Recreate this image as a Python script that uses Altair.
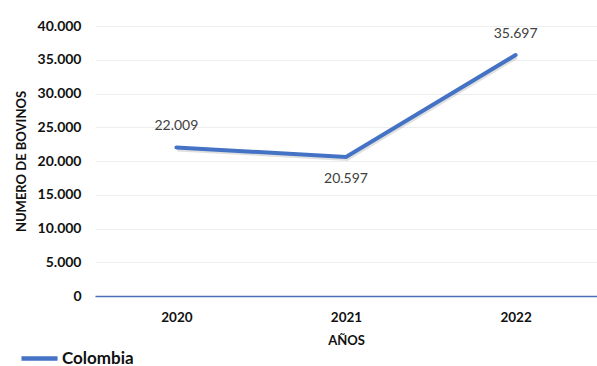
import altair as alt
import pandas as pd

# Bovine counts per year
years = ["2020", "2021", "2022"]
bovinos = [22009, 20597, 35697]
label_side = ["above", "below", "above"]
series = ["Colombia", "Colombia", "Colombia"]

df = pd.DataFrame({
    "year": years,
    "value": bovinos,
    "side": label_side,
    "serie": series,
})
df["label"] = df["value"].map(lambda v: f"{v:,}".replace(",", "."))

FONT = "Lato"
BLUE = "#4472C4"

x_enc = alt.X(
    "year:O",
    title="AÑOS",
    scale=alt.Scale(type="point", padding=0.48),
    axis=alt.Axis(
        labelAngle=0,
        labelFont=FONT,
        labelFontWeight="bold",
        labelFontSize=13.5,
        labelColor="#111111",
        labelPadding=14,
        ticks=False,
        domainColor="#4A6FB5",
        domainWidth=1.5,
        grid=False,
        titleFont=FONT,
        titleFontWeight="bold",
        titleFontSize=13,
        titleColor="#111111",
        titlePadding=11,
    ),
)

y_enc = alt.Y(
    "value:Q",
    title="NUMERO DE BOVINOS",
    scale=alt.Scale(domain=[0, 40000]),
    axis=alt.Axis(
        values=list(range(0, 40001, 5000)),
        labelExpr="replace(datum.label, ',', '.')",
        labelFont=FONT,
        labelFontWeight="bold",
        labelFontSize=14,
        labelColor="#111111",
        labelPadding=14,
        ticks=False,
        domain=False,
        gridColor="#EEEEEE",
        titleFont=FONT,
        titleFontWeight="bold",
        titleFontSize=13,
        titleColor="#111111",
        titlePadding=9,
    ),
)

base = alt.Chart(df)

shadow = base.mark_line(
    strokeWidth=4, color="#000000", opacity=0.12, yOffset=2, xOffset=1
).encode(x=x_enc, y=y_enc)

line = base.mark_line(strokeWidth=4, strokeCap="round").encode(
    x=x_enc,
    y=y_enc,
    color=alt.Color(
        "serie:N",
        scale=alt.Scale(range=[BLUE]),
        legend=alt.Legend(
            title=None,
            orient="none",
            legendX=-76,
            legendY=312,
            symbolType="stroke",
            symbolStrokeWidth=4.5,
            symbolSize=1300,
            labelFont=FONT,
            labelFontSize=17,
            labelFontWeight="bold",
            labelColor="#111111",
            labelOffset=2,
        ),
    ),
)

labels_above = base.transform_filter(alt.datum.side == "above").mark_text(
    font=FONT, fontSize=14, color="#404040", dy=-21
).encode(x=x_enc, y=y_enc, text="label:N")

labels_below = base.transform_filter(alt.datum.side == "below").mark_text(
    font=FONT, fontSize=14, color="#404040", dy=22
).encode(x=x_enc, y=y_enc, text="label:N")

chart = (
    alt.layer(shadow, line, labels_above, labels_below)
    .properties(
        width=502,
        height=270,
        padding={"left": 95, "top": 26, "right": 0, "bottom": 70},
        autosize=alt.AutoSizeParams(type="none"),
        background="white",
    )
    .configure_view(stroke=None)
)

chart.save("out.html", embed_options={"renderer": "svg", "actions": False})
